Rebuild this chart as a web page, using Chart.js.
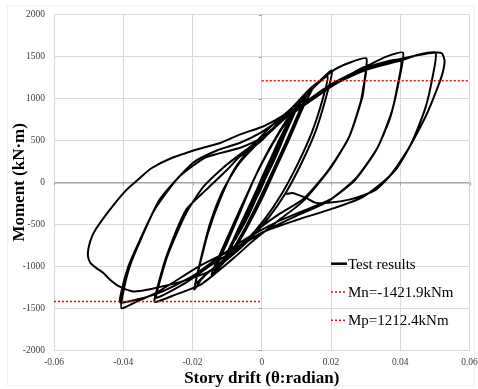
<!DOCTYPE html>
<html>
<head>
<meta charset="utf-8">
<script src="https://cdn.jsdelivr.net/npm/chart.js"></script>
<style>
  html, body { margin: 0; padding: 0; background: #fff; }
  #wrap { position: relative; width: 478px; height: 389px; }
  #frame { position: absolute; left: 7px; top: 5px; width: 468px; height: 381px; border: 1px solid #f0f0f0; box-sizing: border-box; }
  canvas { position: absolute; left: 0; top: 0; }
</style>
</head>
<body>
<div id="wrap">
  <div id="frame"></div>
  <canvas id="myChart" width="478" height="389"></canvas>
</div>
<script>
// axis ticks
var xTickVals = [-0.06, -0.04, -0.02, 0, 0.02, 0.04, 0.06];
var xTickLabels = ["-0.06", "-0.04", "-0.02", "0", "0.02", "0.04", "0.06"];
var yTickVals = [-2000, -1500, -1000, -500, 0, 500, 1000, 1500, 2000];
var yTickLabels = ["-2000", "-1500", "-1000", "-500", "0", "500", "1000", "1500", "2000"];

var seriesLabels = ["Test results", "Mn=-1421.9kNm", "Mp=1212.4kNm"];

// reference moments [drift, moment]
var mnLine = [[-0.06, -1421.9], [0, -1421.9]];
var mpLine = [[0, 1212.4], [0.06, 1212.4]];

// test record, [drift (rad), moment (kN·m)]
var elasticLoops = [
  [0, 0], [0.0019, 170], [0.00375, 330], [0.0015, 100], [-0.0005, -90], [-0.00375, -340], [-0.0015, -110], [0.0005, 80],
  [0.00375, 320], [0.0014, 90], [-0.0006, -100], [-0.0037, -335], [-0.0014, -100], [0.0006, 90],
  [0.005, 440], [0.002, 140], [-0.0007, -120], [-0.005, -450], [-0.002, -150], [0.0007, 110],
  [0.005, 435], [0.0021, 150], [-0.0008, -120], [-0.0049, -445], [-0.0021, -160], [0.0008, 120],
  [0.0075, 660], [0.004, 340], [0.0, -40], [-0.004, -400], [-0.0076, -680], [-0.004, -340], [0.0, 50], [0.004, 400],
  [0.0074, 650], [0.004, 330], [-0.0002, -60], [-0.004, -410], [-0.0075, -670], [-0.004, -330], [0.0002, 60], [0.004, 390],
  [0.0076, 670], [0.0042, 320], [-0.0004, -80], [-0.0042, -420], [-0.0078, -690], [-0.0038, -320], [0.0004, 80], [0.0044, 420],
  [0.0098, 870], [0.007, 610], [0.003, 250], [-0.001, -120], [-0.005, -460], [-0.0104, -880],
  [-0.007, -580], [-0.003, -230], [0.001, 130], [0.005, 500],
  [0.0097, 860], [0.0068, 590], [0.0028, 230], [-0.0012, -140], [-0.0052, -480], [-0.0102, -870],
  [-0.0068, -560], [-0.0028, -210], [0.0012, 150], [0.0052, 520],
  [0.0100, 880], [0.0066, 560], [0.0024, 190], [-0.0016, -170], [-0.0056, -510], [-0.0106, -900],
  [-0.0064, -530], [-0.0024, -180], [0.0016, 180], [0.0056, 550]
];
var loops015 = [
  [0.0095, 870], [0.0122, 1010], [0.0147, 1123],
  [0.012, 900], [0.008, 520], [0.004, 160], [0, -200], [-0.004, -520], [-0.008, -800], [-0.0115, -980], [-0.0145, -1100],
  [-0.012, -850], [-0.008, -480], [-0.004, -120], [0.0, 230], [0.005, 600], [0.0095, 880], [0.0135, 1090],
  [0.011, 860], [0.007, 480], [0.003, 120], [-0.001, -230], [-0.005, -560], [-0.009, -840], [-0.0135, -1050]
];
var loops02 = [
  [-0.010, -720], [-0.006, -330], [-0.002, 60], [0.003, 450], [0.008, 780], [0.012, 1000], [0.016, 1180], [0.0203, 1335],
  [0.0188, 1050], [0.0157, 627], [0.0115, 231], [0.007, -120], [0.002, -420], [-0.004, -700], [-0.010, -920], [-0.015, -1060], [-0.0175, -1160], [-0.0195, -1277],
  [-0.018, -1000], [-0.0155, -600], [-0.012, -200], [-0.008, 150], [-0.003, 420], [0.003, 680], [0.009, 900], [0.014, 1120], [0.019, 1260],
  [0.0175, 980], [0.0145, 600], [0.0105, 230], [0.006, -120], [0.001, -430], [-0.005, -720], [-0.011, -940], [-0.016, -1090], [-0.019, -1200]
];
var loops03 = [
  [-0.0175, -900], [-0.015, -500], [-0.0115, -120], [-0.007, 200], [-0.002, 430], [0.004, 660], [0.0095, 870], [0.015, 1130], [0.0205, 1330], [0.0255, 1430], [0.0302, 1480],
  [0.0298, 1250], [0.0291, 1023], [0.0253, 547], [0.0195, 151], [0.0118, -230], [0.005, -450], [-0.002, -680], [-0.008, -900], [-0.0141, -1110], [-0.0175, -1217], [-0.0208, -1277], [-0.0247, -1336], [-0.0309, -1428],
  [-0.0304, -1300], [-0.0275, -881], [-0.0218, -325], [-0.016, -87], [-0.010, 150], [-0.0064, 305], [0.0, 500], [0.005, 720], [0.0109, 880], [0.020, 1140], [0.030, 1380],
  [0.0292, 1100], [0.0285, 950], [0.025, 520], [0.019, 130], [0.012, -200], [0.005, -380], [-0.001, -560], [-0.0075, -800], [-0.0151, -1000], [-0.022, -1200], [-0.0304, -1376]
];
var loops04 = [
  [-0.0299, -1250], [-0.027, -850], [-0.022, -380], [-0.017, -60], [-0.011, 180], [-0.0064, 330], [0.0, 530], [0.006, 740], [0.0109, 905], [0.02, 1170], [0.031, 1400], [0.036, 1500], [0.0408, 1547],
  [0.0398, 1250], [0.0376, 850], [0.0335, 420], [0.027, 40], [0.019, -230], [0.010, -400], [0.002, -560], [-0.0084, -800], [-0.018, -1000], [-0.0304, -1316], [-0.036, -1420], [-0.0405, -1503],
  [-0.0402, -1350], [-0.0385, -1050], [-0.0362, -801], [-0.0295, -206], [-0.0199, 231], [-0.013, 380], [-0.0064, 470], [0.0, 600], [0.005, 740], [0.0109, 900], [0.022, 1200], [0.031, 1380], [0.0401, 1460],
  [0.0392, 1150], [0.037, 760], [0.033, 380], [0.027, 30], [0.02, -200], [0.012, -340], [0.004, -480], [-0.004, -660], [-0.012, -880], [-0.02, -1120], [-0.0304, -1330], [-0.0408, -1435]
];
var loops05 = [
  [-0.0405, -1300], [-0.0385, -1000], [-0.036, -760], [-0.031, -330], [-0.024, 60], [-0.016, 300], [-0.0064, 410], [0.0, 530], [0.0055, 720], [0.0109, 905], [0.02, 1150], [0.03, 1340], [0.0406, 1460], [0.045, 1520], [0.0502, 1547],
  [0.0493, 1250], [0.0472, 880], [0.043, 450], [0.037, 80], [0.029, -180], [0.02, -320], [0.01, -450], [0.0, -600], [-0.008, -820], [-0.0151, -1059], [-0.0228, -1178], [-0.0304, -1257], [-0.0352, -1297], [-0.0375, -1300],
  [-0.041, -1245], [-0.0439, -1158], [-0.0458, -1078], [-0.0475, -1030], [-0.0495, -960], [-0.0502, -880], [-0.0501, -801],
  [-0.0495, -700], [-0.0485, -600], [-0.0467, -483], [-0.043, -280], [-0.039, -87], [-0.0355, 40], [-0.032, 165], [-0.026, 290], [-0.018, 400], [-0.012, 470], [-0.0064, 570], [0.0, 660], [0.0041, 745], [0.0089, 864],
  [0.015, 1010], [0.022, 1190], [0.03, 1350], [0.037, 1440], [0.043, 1500], [0.0495, 1545],
  [0.052, 1540], [0.0528, 1450], [0.0522, 1300], [0.0505, 1100], [0.0475, 800], [0.0445, 560], [0.041, 300], [0.0387, 151], [0.033, -87], [0.029, -160], [0.0253, -206], [0.020, -240], [0.0157, -245],
  [0.0128, -186], [0.0109, -155], [0.0089, -126], [0.007, -140]
];

function toXY(list) {
  return list.map(function (p) { return { x: p[0], y: p[1] }; });
}

var testData = toXY([].concat(elasticLoops, loops015, loops02, loops03, loops04, loops05));

var serif = "'Liberation Serif', 'Times New Roman', serif";

// legend drawn inside the plot, lower right
var insideLegend = {
  id: 'insideLegend',
  afterDraw: function (chart) {
    var c = chart.ctx;
    var a = chart.chartArea;
    c.save();
    c.font = "15px " + serif;
    c.textBaseline = 'middle';
    c.textAlign = 'left';
    chart.data.datasets.forEach(function (ds, i) {
      var x = a.left + 277;
      var y = a.top + 249 + i * 28.3;
      c.beginPath();
      c.strokeStyle = ds.borderColor;
      c.lineWidth = i === 0 ? 2.5 : 1.5;
      c.setLineDash(ds.borderDash || []);
      c.moveTo(x, y);
      c.lineTo(x + 16, y);
      c.stroke();
      c.fillStyle = '#000';
      c.fillText(ds.label, x + 17, y + 1);
    });
    c.restore();
  },
  // small tick marks on the axes through the origin
  beforeDatasetsDraw: function (chart) {
    var c = chart.ctx;
    var xs = chart.scales.x, ys = chart.scales.y;
    var x0 = xs.getPixelForValue(0), y0 = ys.getPixelForValue(0);
    c.save();
    c.strokeStyle = '#a0a0a0';
    c.lineWidth = 1;
    yTickVals.forEach(function (v) {
      var y = Math.round(ys.getPixelForValue(v)) + 0.5;
      c.beginPath(); c.moveTo(x0 - 3, y); c.lineTo(x0, y); c.stroke();
    });
    xTickVals.forEach(function (v) {
      var x = Math.round(xs.getPixelForValue(v)) + 0.5;
      c.beginPath(); c.moveTo(x, y0); c.lineTo(x, y0 + 3); c.stroke();
    });
    c.restore();
  }
};

var ctx = document.getElementById("myChart").getContext("2d");
var myChart = new Chart(ctx, {
  type: "scatter",
  data: {
    datasets: [
      {
        label: seriesLabels[0],
        data: testData,
        showLine: true,
        borderColor: "#000000",
        borderWidth: 2,
        pointRadius: 0,
        tension: 0.2,
        order: 2
      },
      {
        label: seriesLabels[1],
        data: toXY(mnLine),
        showLine: true,
        borderColor: "#ff0000",
        borderWidth: 1.5,
        borderDash: [2, 2],
        pointRadius: 0,
        order: 1
      },
      {
        label: seriesLabels[2],
        data: toXY(mpLine),
        showLine: true,
        borderColor: "#ff0000",
        borderWidth: 1.5,
        borderDash: [2, 2],
        pointRadius: 0,
        order: 1
      }
    ]
  },
  options: {
    responsive: false,
    animation: false,
    devicePixelRatio: 1,
    layout: { padding: { left: 0, top: 14, right: 8.5, bottom: 0 } },
    plugins: {
      legend: { display: false },
      tooltip: { enabled: false }
    },
    scales: {
      x: {
        type: "linear",
        min: -0.06,
        max: 0.06,
        afterBuildTicks: function (s) { s.ticks = xTickVals.map(function (v) { return { value: v }; }); },
        afterFit: function (s) {
          s.height = 39;
          // let the end labels overhang like the original
          s.paddingLeft = 0;
          s.paddingRight = 0;
        },
        ticks: {
          callback: function (v, i) { return xTickLabels[i]; },
          font: { family: serif, size: 9.5 },
          color: "#404040",
          padding: 7,
          maxRotation: 0
        },
        grid: { color: "#d9d9d9", drawTicks: false },
        border: { color: "#d9d9d9" },
        title: {
          display: true,
          text: "Story drift (θ:radian)",
          font: { family: serif, size: 17, weight: "bold", lineHeight: 1.2 },
          color: "#000",
          padding: { top: 0, bottom: 0 }
        }
      },
      y: {
        type: "linear",
        min: -2000,
        max: 2000,
        afterBuildTicks: function (s) { s.ticks = yTickVals.map(function (v) { return { value: v }; }); },
        afterFit: function (s) { s.width = 54; },
        ticks: {
          callback: function (v, i) { return yTickLabels[i]; },
          font: { family: serif, size: 9.5 },
          color: "#404040",
          padding: 9
        },
        grid: {
          drawTicks: false,
          color: function (c) { return c.tick && c.tick.value === 0 ? "#a6a6a6" : "#d9d9d9"; },
          lineWidth: function (c) { return c.tick && c.tick.value === 0 ? 1.6 : 1; }
        },
        border: { color: "#d9d9d9" },
        title: {
          display: true,
          text: "Moment (kN·m)",
          font: { family: serif, size: 17, weight: "bold", lineHeight: 1.2 },
          color: "#000",
          padding: { top: 9, bottom: 0 }
        }
      }
    }
  },
  plugins: [insideLegend]
});
</script>
</body>
</html>
